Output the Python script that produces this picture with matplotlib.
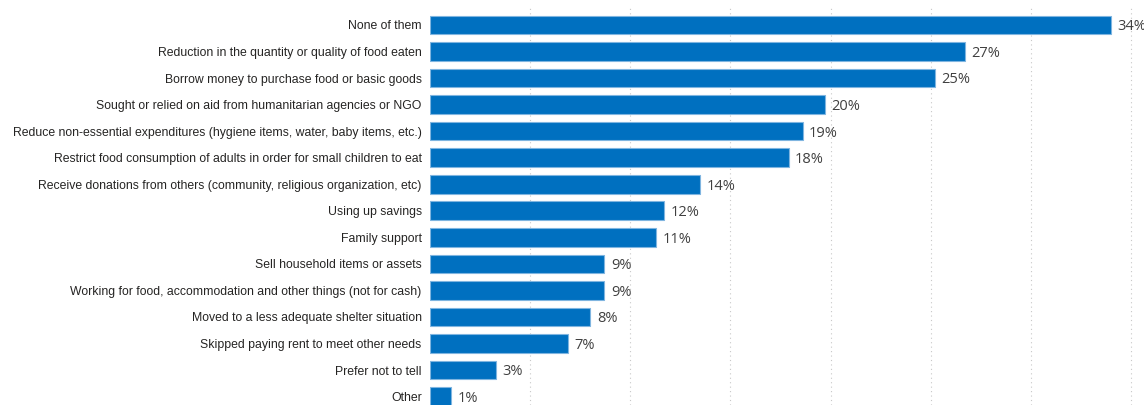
import matplotlib
matplotlib.use("Agg")
import matplotlib.pyplot as plt

categories = [
    "None of them",
    "Reduction in the quantity or quality of food eaten",
    "Borrow money to purchase food or basic goods",
    "Sought or relied on aid from humanitarian agencies or NGO",
    "Reduce non-essential expenditures (hygiene items, water, baby items, etc.)",
    "Restrict food consumption of adults in order for small children to eat",
    "Receive donations from others (community, religious organization, etc)",
    "Using up savings",
    "Family support",
    "Sell household items or assets",
    "Working for food, accommodation and other things (not for cash)",
    "Moved to a less adequate shelter situation",
    "Skipped paying rent to meet other needs",
    "Prefer not to tell",
    "Other",
]
values = [34.0, 26.7, 25.2, 19.7, 18.6, 17.9, 13.5, 11.7, 11.3, 8.7, 8.7, 8.0, 6.9, 3.3, 1.05]
labels = ["34%", "27%", "25%", "20%", "19%", "18%", "14%", "12%", "11%", "9%", "9%", "8%", "7%", "3%", "1%"]

W, H = 1144, 405
fig = plt.figure(figsize=(W / 100, H / 100), dpi=100)
left_px, right_px, top_px, bot_px = 430, 1144, 8, 405
ax = fig.add_axes([left_px / W, 1 - bot_px / H, (right_px - left_px) / W, (bot_px - top_px) / H])

y = list(range(len(categories)))
ax.barh(y, values, height=0.7, color="#0070C0", edgecolor="#7FB5E0", linewidth=0.8, zorder=3)

ppx = 20.03  # pixels per percent
ax.set_xlim(0, (right_px - left_px) / ppx)
row = 26.54
c0 = 25.0
ax.set_ylim((bot_px - c0) / row, (top_px - c0) / row)

for yi, v, lab in zip(y, values, labels):
    ax.text(v + 0.33, yi + 0.07, lab, va="center", ha="left", fontsize=10.5, color="#404040",
            family=["Open Sans", "DejaVu Sans"], zorder=4)

ax.set_yticks(y)
ax.set_yticklabels(categories, fontsize=8.85, color="#252423", family=["Liberation Sans", "DejaVu Sans"])
ax.tick_params(axis="y", length=0, pad=6)
ax.set_xticks([5, 10, 15, 20, 25, 30, 35])
ax.tick_params(axis="x", length=0, labelbottom=False)
ax.grid(axis="x", color="#C8C8C8", linestyle=(0, (1, 3)), linewidth=0.8, zorder=0)
for s in ax.spines.values():
    s.set_visible(False)

fig.savefig("out.png", dpi=100)
